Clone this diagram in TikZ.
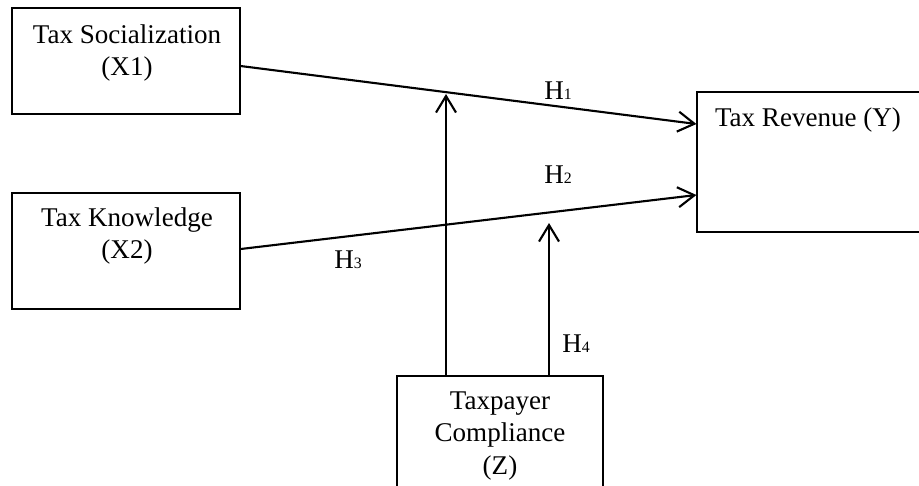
\documentclass[tikz,border=0pt]{standalone}
\usepackage{fontspec}
\setmainfont{Liberation Serif}
\usetikzlibrary{arrows.meta}

\begin{document}
\begin{tikzpicture}[x=0.02cm,y=-0.02cm,draw/.append style={black},
    box/.style={draw,line width=0.7pt,inner sep=0pt},
    lbl/.style={align=center,font=\fontsize{15.4}{18.7}\selectfont},
    arr/.style={line width=1.2pt,-{Straight Barb[length=3.3mm,width=4mm,line width=1.2pt]}}]
  \useasboundingbox (0,0) rectangle (919,485);
  % boxes
  \node[box,minimum width=4.56cm,minimum height=2.12cm] (soc) at (126,61) {};
  \node[box,minimum width=4.56cm,minimum height=2.32cm] (know) at (126,251) {};
  \node[box,minimum width=4.76cm,minimum height=2.8cm] (rev) at (816,162) {};
  \node[box,minimum width=4.12cm,minimum height=2.48cm] (comp) at (500,438) {};
  \node[lbl] (soclbl) at (127,53) {Tax Socialization\\(X1)};
  \node[lbl] (knowlbl) at (127,236) {Tax Knowledge\\(X2)};
  \node[lbl] (revlbl) at (808,120) {Tax Revenue (Y)};
  \node[lbl] (complbl) at (500,436) {Taxpayer\\Compliance\\(Z)};
  % paths
  \coordinate (m1) at (446,94);
  \coordinate (m2) at (549,223);
  \draw[arr] (soc.east |- 0,66) -- (rev.west |- 0,124);
  \draw[arr] (know.east |- 0,249) -- (rev.west |- 0,195);
  \draw[arr] (comp.north -| m1) -- (m1);
  \draw[arr] (comp.north -| m2) -- (m2);
  \node[lbl] (h1) at (558,91) {H{\fontsize{9}{9}\selectfont 1}};
  \node[lbl] (h2) at (558,175) {H{\fontsize{9}{9}\selectfont 2}};
  \node[lbl] (h3) at (348,260) {H{\fontsize{9}{9}\selectfont 3}};
  \node[lbl] (h4) at (576,344) {H{\fontsize{9}{9}\selectfont 4}};
\end{tikzpicture}
\end{document}
